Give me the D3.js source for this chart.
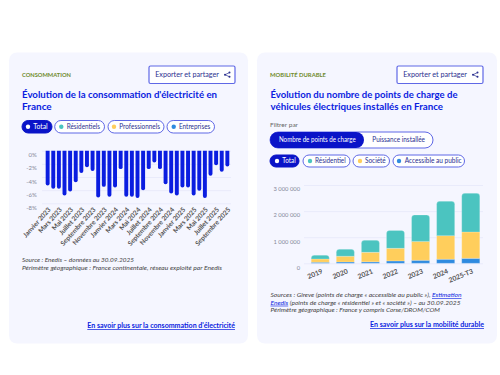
<!DOCTYPE html>
<html>
<head>
<meta charset="utf-8">
<script src="https://cdn.jsdelivr.net/npm/d3@7"></script>
<style>
  html, body { margin: 0; padding: 0; background: #fff; }
  svg { display: block; }
  text { font-family: Lato, "Open Sans", sans-serif; }
</style>
</head>
<body>
<div id="chart"></div>
<script>
//Left chart data
const months = ["Janvier 2023", "Février 2023", "Mars 2023", "Avril 2023", "Mai 2023", "Juin 2023", "Juillet 2023", "Août 2023", "Septembre 2023", "Octobre 2023", "Novembre 2023", "Décembre 2023",
    "Janvier 2024", "Février 2024", "Mars 2024", "Avril 2024", "Mai 2024", "Juin 2024", "Juillet 2024", "Août 2024", "Septembre 2024", "Octobre 2024", "Novembre 2024", "Décembre 2024",
    "Janvier 2025", "Février 2025", "Mars 2025", "Avril 2025", "Mai 2025", "Juin 2025", "Juillet 2025", "Août 2025", "Septembre 2025"];
const consoValues = [-5.3, -5.8, -5.8, -6.8, -6.2, -4.8, -3.4, -2.5, -3.1, -7.1, -5.5, -7, -5.6, -2.8, -7, -7, -7.2, -6, -2.8, -1.8, -2.8, -5.1, -6.5, -6.8, -5.6, -5.6, -6.8, -6.1, -7.2, -3.8, -2.2, -3.2, -2.4];
const consoTicks = [0, -2, -4, -6, -8];

//Right chart data
const years = ["2019", "2020", "2021", "2022", "2023", "2024", "2025-T3"];
const publicPoints = [40000, 50000, 55000, 90000, 115000, 155000, 190000];
const societePoints = [126000, 220000, 365000, 485000, 725000, 905000, 1010000];
const residentielPoints = [144000, 266000, 460000, 685000, 1010000, 1315000, 1480000];
const chargeTicks = [0, 1000000, 2000000, 3000000];

//Pills
const leftPills = ["Total", "Résidentiels", "Professionnels", "Entreprises"];
const rightPills = ["Total", "Résidentiel", "Société", "Accessible au public"];

const BLUE = "#0a1de0";
const BORDER = "#5f68e6";
const NAVY = "#2a2f8f";
const TEAL = "#4bc4c0";
const YELLOW = "#ffce5c";
const SKY = "#2f8be0";
const GRID = "#e9ebfb";
const CARD = "#f5f6ff";

const svg = d3.select("#chart").append("svg")
    .attr("width", 500)
    .attr("height", 375);

function drawCard(x, w) {
    svg.append("rect")
        .attr("x", x).attr("y", 52.5)
        .attr("width", w).attr("height", 291)
        .attr("rx", 8)
        .attr("fill", CARD);
}

function drawText(x, y, str, size, color, weight, anchor, style) {
    return svg.append("text")
        .attr("x", x).attr("y", y)
        .attr("font-size", size)
        .attr("fill", color)
        .attr("font-weight", weight || 400)
        .attr("text-anchor", anchor || "start")
        .attr("font-style", style || "normal")
        .text(str);
}

//Lato is not the font of the original, so squeeze the long lines to the measured width
function fit(sel, width) {
    sel.attr("textLength", width).attr("lengthAdjust", "spacingAndGlyphs");
}

function drawExportButton(x) {
    svg.append("rect")
        .attr("x", x).attr("y", 66)
        .attr("width", 86).attr("height", 17.5)
        .attr("rx", 1.5)
        .attr("fill", "#fff")
        .attr("stroke", BORDER)
        .attr("stroke-width", 1.2);
    drawText(x + 6.2, 77.3, "Exporter et partager", 7.4, NAVY, 400).call(fit, 63.7);
    //Share icon
    const ix = x + 76;
    svg.append("path")
        .attr("d", `M${ix + 4.5} 72.6L${ix} 74.7L${ix + 4.5} 76.8`)
        .attr("fill", "none")
        .attr("stroke", NAVY)
        .attr("stroke-width", 0.7);
    [[ix + 4.5, 72.6], [ix, 74.7], [ix + 4.5, 76.8]].forEach(p => {
        svg.append("circle").attr("cx", p[0]).attr("cy", p[1]).attr("r", 1).attr("fill", NAVY);
    });
}

//boxes: [pill left, pill right, dot x, text left, text right]
function drawPills(labels, boxes, y, h) {
    const dots = ["#fff", TEAL, YELLOW, SKY];
    labels.forEach((label, i) => {
        const [x0, x1, dotX, t0, t1] = boxes[i];
        svg.append("rect")
            .attr("x", x0).attr("y", y)
            .attr("width", x1 - x0).attr("height", h)
            .attr("rx", h / 2)
            .attr("fill", i == 0 ? "#0a14c8" : "#fff")
            .attr("stroke", i == 0 ? "#0a14c8" : BORDER)
            .attr("stroke-width", 1);
        svg.append("circle")
            .attr("cx", dotX).attr("cy", y + h / 2)
            .attr("r", 2.2)
            .attr("fill", dots[i]);
        drawText(t0, y + h / 2 + 2.3, label, 6.8, i == 0 ? "#fff" : NAVY, 400).call(fit, t1 - t0);
    });
}

function drawLink(x0, x1, y, str) {
    drawText(x0, y, str, 7.2, BLUE, 700)
        .attr("text-decoration", "underline")
        .call(fit, x1 - x0);
}

drawCard(9, 239);
drawCard(257, 240);

//Left card header
drawText(22, 76.5, "CONSOMMATION", 6.1, "#6f8a2a", 700).call(fit, 49);
drawExportButton(149);
drawText(22, 98, "Évolution de la consommation d'électricité en", 9.8, BLUE, 700).call(fit, 195);
drawText(22, 110, "France", 9.8, BLUE, 700).call(fit, 29.7);
drawPills(leftPills, [
    [22, 52, 28, 33.3, 47.7],
    [54.7, 104.5, 61.3, 66.7, 100],
    [108, 164, 114, 119.3, 160],
    [167, 214.5, 173.7, 179, 210.3]
], 120.5, 12.5);

//Left chart
const xMonth = d3.scaleBand().domain(months).range([44, 231]).padding(0.3);
const yConso = d3.scaleLinear().domain([-8, 0]).range([203.3, 150.7]);

svg.append("g")
    .attr("transform", "translate(42,0)")
    .call(d3.axisLeft(yConso).tickValues(consoTicks).tickSize(-189).tickFormat(d => d + "%"))
    .call(g => g.select(".domain").remove())
    .call(g => g.selectAll("line").attr("stroke", GRID))
    .call(g => g.selectAll("text")
        .attr("x", -5.3).attr("dy", "1em")
        .attr("font-size", 6).attr("fill", "#85889a"));

svg.append("g")
    .selectAll("path")
    .data(months)
    .join("path")
    .attr("fill", BLUE)
    .attr("d", (m, i) => {
        const x = xMonth(m), w = xMonth.bandwidth(), y0 = yConso(0), y1 = yConso(consoValues[i]), r = w / 2;
        return `M${x} ${y0}H${x + w}V${y1 - r}A${r} ${r} 0 0 1 ${x} ${y1 - r}Z`;
    });

svg.append("g")
    .attr("transform", "translate(0,205)")
    .call(d3.axisBottom(xMonth).tickValues(months.filter((m, i) => i % 2 == 0)).tickSize(0))
    .call(g => g.select(".domain").remove())
    .call(g => g.selectAll("text")
        .attr("text-anchor", "end")
        .attr("font-size", 6.6)
        .attr("font-weight", 700)
        .attr("fill", "#555")
        .attr("x", 0).attr("y", 0).attr("dy", 0)
        .attr("transform", "translate(3.5,5) rotate(-48)"));

//Left notes
drawText(22, 262, "Source : Enedis – données au 30.09.2025", 6.3, "#444", 400, "start", "italic").call(fit, 112);
drawText(22, 270, "Périmètre géographique : France continentale, réseau exploité par Enedis", 6.3, "#444", 400, "start", "italic").call(fit, 200);
drawLink(87.3, 235, 328, "En savoir plus sur la consommation d'électricité");

//Right card header
drawText(270, 76.5, "MOBILITÉ DURABLE", 6.1, "#6f8a2a", 700).call(fit, 56);
drawExportButton(397);
drawText(270.5, 98, "Évolution du nombre de points de charge de", 9.8, BLUE, 700).call(fit, 187);
drawText(270.5, 110, "véhicules électriques installés en France", 9.8, BLUE, 700).call(fit, 172.5);
drawText(270, 127, "Filtrer par", 6.5, "#666").call(fit, 28);

//Toggle
svg.append("rect")
    .attr("x", 270).attr("y", 132)
    .attr("width", 163).attr("height", 16)
    .attr("rx", 8)
    .attr("fill", "#fff")
    .attr("stroke", BORDER)
    .attr("stroke-width", 1);
svg.append("rect")
    .attr("x", 270).attr("y", 132)
    .attr("width", 94).attr("height", 16)
    .attr("rx", 8)
    .attr("fill", "#0a14c8");
drawText(279, 142.4, "Nombre de points de charge", 6.8, "#fff", 400).call(fit, 76.7);
drawText(372.3, 142.4, "Puissance installée", 6.8, NAVY, 400).call(fit, 52.7);

drawPills(rightPills, [
    [270, 299, 277, 282.3, 295.7],
    [303, 350, 310, 315, 345.7],
    [353, 389.5, 360, 365, 385.7],
    [393, 464.5, 399, 404.7, 461.7]
], 155, 12);

//Right chart
const xYear = d3.scaleBand().domain(years).range([307.7, 483.3]).paddingInner(0.28).paddingOuter(0.14);
const yCharge = d3.scaleLinear().domain([0, 3000000]).range([263.3, 185]);

svg.append("g")
    .attr("transform", "translate(304,0)")
    .call(d3.axisLeft(yCharge).tickValues(chargeTicks).tickSize(-179)
        .tickFormat(d3.formatLocale({ decimal: ",", thousands: " ", grouping: [3], currency: ["", ""] }).format(",d")))
    .call(g => g.select(".domain").remove())
    .call(g => g.selectAll("line").attr("stroke", GRID))
    .call(g => g.selectAll("text")
        .attr("x", -4).attr("dy", "1em")
        .attr("font-size", 5.8).attr("fill", "#85889a"));

const stack = d3.stack().keys(["pub", "soc", "res"]);
const stackRows = years.map((y, i) => ({ year: y, pub: publicPoints[i], soc: societePoints[i], res: residentielPoints[i] }));
const stackColors = { pub: SKY, soc: YELLOW, res: TEAL };

svg.append("g")
    .selectAll("g")
    .data(stack(stackRows))
    .join("g")
    .attr("fill", d => stackColors[d.key])
    .selectAll("path")
    .data(d => d.map(v => Object.assign(v, { key: d.key })))
    .join("path")
    .attr("stroke", "#fff")
    .attr("stroke-opacity", 0.35)
    .attr("stroke-width", 0.6)
    .attr("d", d => {
        const x = xYear(d.data.year), w = xYear.bandwidth(), y0 = yCharge(d[0]), y1 = yCharge(d[1]);
        if (d.key != "res") return `M${x} ${y0}H${x + w}V${y1}H${x}Z`;
        //Only the top of the stack is rounded
        const r = 3;
        return `M${x} ${y0}H${x + w}V${y1 + r}A${r} ${r} 0 0 0 ${x + w - r} ${y1}H${x + r}A${r} ${r} 0 0 0 ${x} ${y1 + r}Z`;
    });

svg.append("g")
    .attr("transform", "translate(0,264)")
    .call(d3.axisBottom(xYear).tickSize(0))
    .call(g => g.select(".domain").remove())
    .call(g => g.selectAll("text")
        .attr("text-anchor", "end")
        .attr("font-size", 6.8)
        .attr("font-weight", 700)
        .attr("fill", "#555")
        .attr("x", 0).attr("y", 0).attr("dy", 0)
        .attr("transform", "translate(3,9) rotate(-22)"));

//Right notes
const note1 = drawText(270.5, 297, "Sources : Gireve (points de charge « accessible au public »), ", 6.2, "#444", 400, "start", "italic");
note1.append("tspan").attr("fill", BLUE).attr("text-decoration", "underline").text("Estimation");
note1.call(fit, 191);
const note2 = drawText(270.5, 304.7, "", 6.2, "#444", 400, "start", "italic");
note2.append("tspan").attr("fill", BLUE).attr("text-decoration", "underline").text("Enedis");
note2.append("tspan").text(" (points de charge « résidentiel » et « société ») – au 30.09.2025");
note2.call(fit, 190);
drawText(270.5, 312.4, "Périmètre géographique : France y compris Corse/DROM/COM", 6.2, "#444", 400, "start", "italic").call(fit, 169.5);
drawLink(370, 484, 327, "En savoir plus sur la mobilité durable");
</script>
</body>
</html>
